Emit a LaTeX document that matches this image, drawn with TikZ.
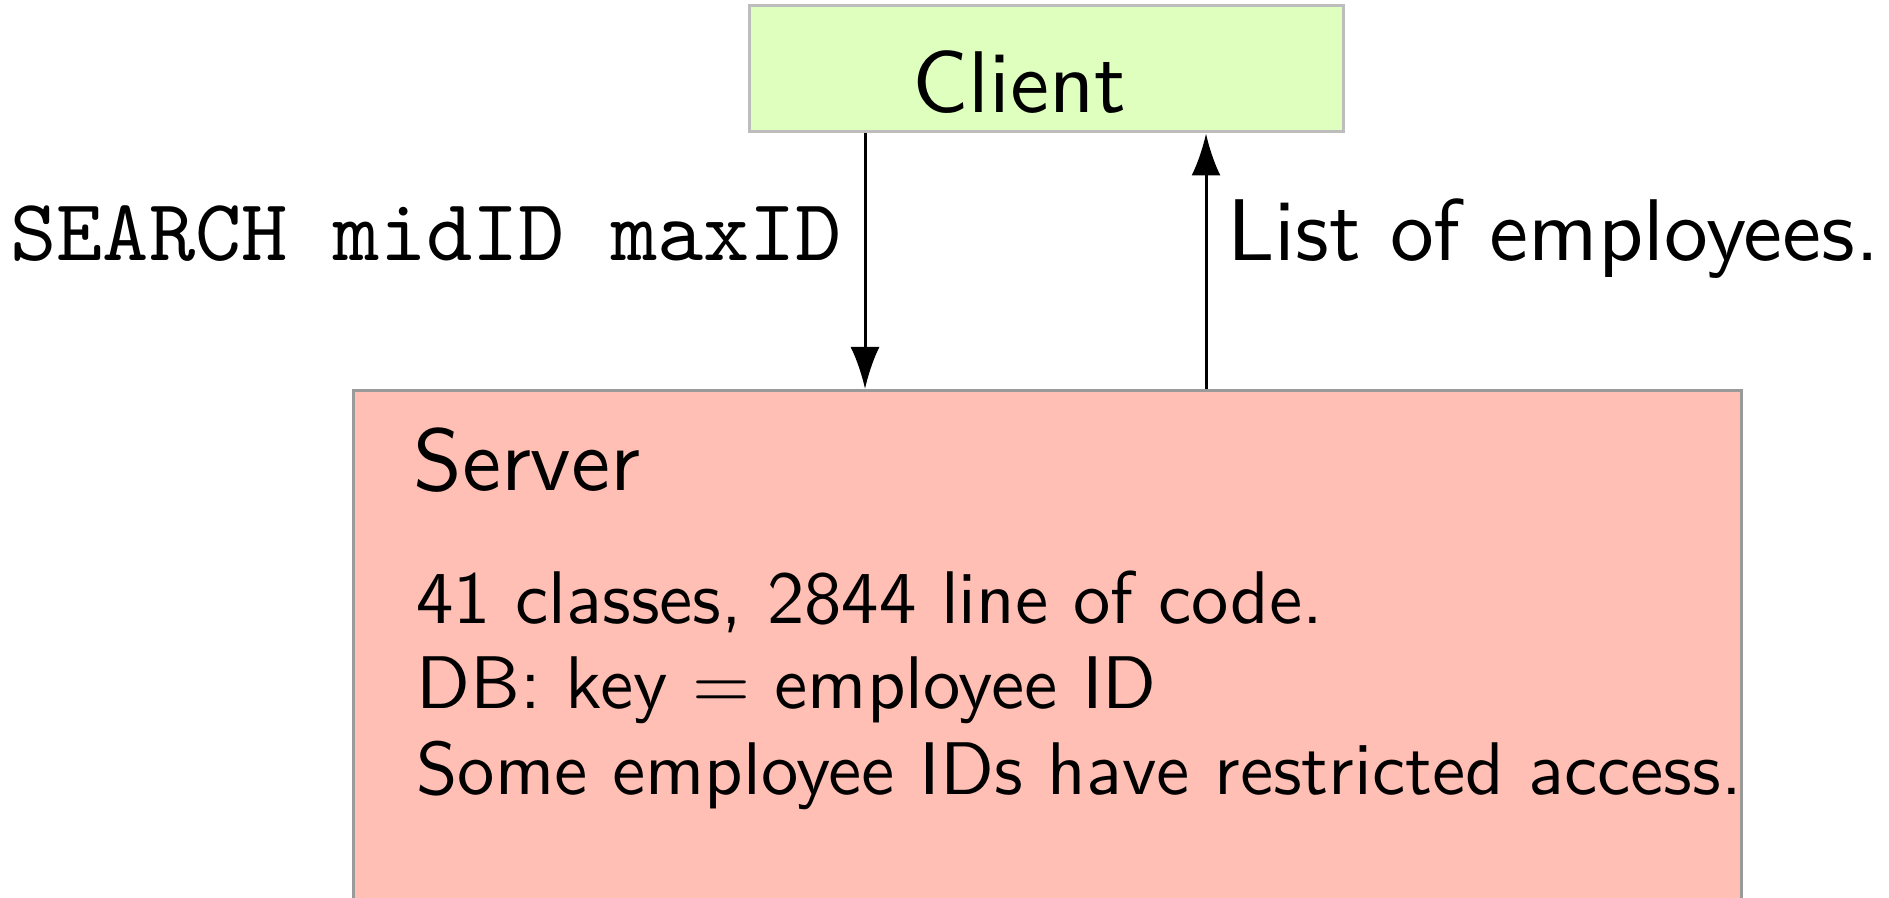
\documentclass[tikz,border=0pt]{standalone}
\usepackage{fontspec}
\setsansfont{lmsans10-regular.otf}
\setmonofont{lmmono10-regular.otf}
\usetikzlibrary{arrows.meta}
\definecolor{clientfill}{HTML}{DEFFBD}
\definecolor{clientline}{HTML}{BDBDBD}
\definecolor{serverfill}{HTML}{FFBFB4}
\definecolor{serverline}{HTML}{9A9A9A}
\tikzset{
  px/.style={x=0.5pt,y=-0.5pt},
  bigsans/.style={font=\sffamily\fontsize{43.8}{53}\selectfont, inner sep=0pt, anchor=base west},
  bodysans/.style={font=\sffamily\fontsize{37.3}{44}\selectfont, inner sep=0pt, anchor=base west},
  bigtt/.style={font=\ttfamily\fontsize{44}{53}\selectfont, inner sep=0pt, anchor=base west},
  arr/.style={line width=1.5pt, -{Latex[length=21pt,width=14.5pt]}},
}
\begin{document}
\begin{tikzpicture}[px]
\useasboundingbox (0,0) rectangle (1889,898);
\clip (0,0) rectangle (1889,898);
% client box
\node[draw=clientline, fill=clientfill, line width=1.5pt, inner sep=0pt,
      minimum width=297pt, minimum height=63pt] (client) at (1046,69) {};
\node[bigsans] (clienttext) at (912,113) {Client};
% server box
\node[draw=serverline, fill=serverfill, line width=1.5pt, inner sep=0pt,
      anchor=north west, minimum width=694pt, minimum height=280pt] (server) at (352,389) {};
\node[bigsans] (servertext) at (413,490) {Server};
\node[bodysans] (l1) at (416,623) {41 classes, 2844 line of code.};
\node[bodysans] (l2) at (416,708) {DB: key\hspace{0.33em}=\hspace{0.33em}employee ID};
\node[bodysans] (l3) at (416,794) {Some employee IDs have restricted access.};
% arrows
\coordinate (dx) at (865,0);
\coordinate (ux) at (1206,0);
\draw[arr] (dx |- client.south) -- (dx |- server.north);
\draw[arr] (ux |- server.north) -- (ux |- client.south);
% labels
\node[bigtt] (req) at (10,261) {SEARCH midID maxID};
\node[bigsans] (resp) at (1227,261) {List of employees.};
\end{tikzpicture}
\end{document}
